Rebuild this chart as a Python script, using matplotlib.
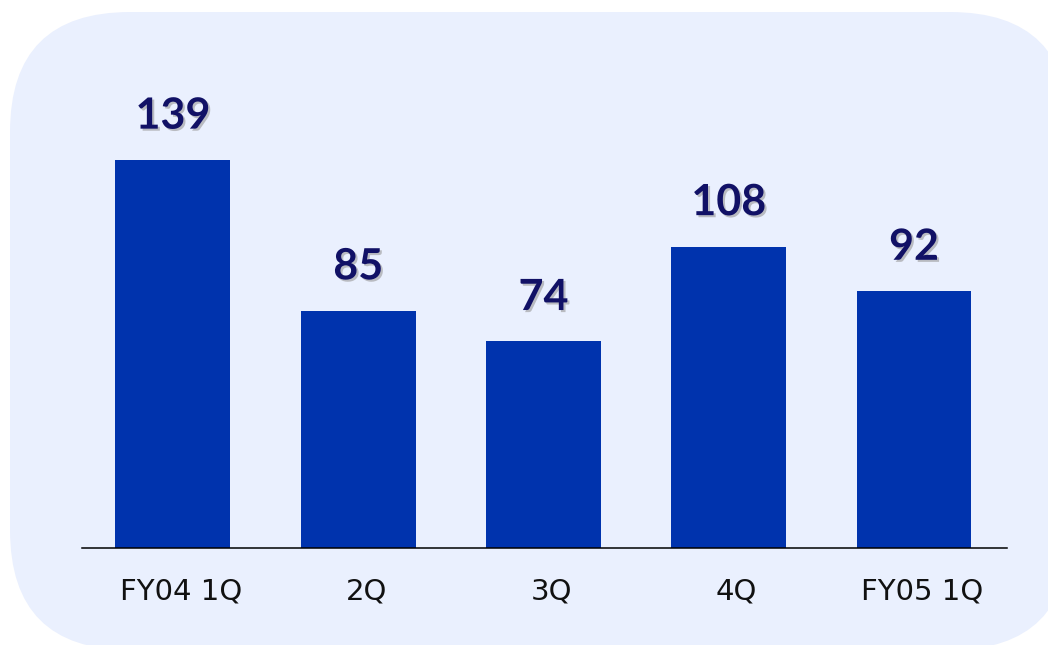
import matplotlib.pyplot as plt
import matplotlib.patheffects as pe
from matplotlib.patches import FancyBboxPatch
from matplotlib.transforms import ScaledTranslation

plt.switch_backend('Agg')

categories = ["FY04 1Q", "2Q", "3Q", "4Q", "FY05 1Q"]
values = [139, 85, 74, 108, 92]

bg_color = "#EAF0FE"
bar_color = "#0033AD"
label_color = "#111166"


def main():
    fig = plt.figure(figsize=(10.48, 6.45), dpi=100)
    fig.patch.set_facecolor("white")

    # rounded light panel behind the chart (inches)
    panel = FancyBboxPatch((0.10, -0.05), 10.6, 6.38,
                           boxstyle="round,pad=0,rounding_size=1.2",
                           transform=fig.dpi_scale_trans,
                           facecolor=bg_color, edgecolor="none", zorder=-5)
    fig.patches.append(panel)

    ax = fig.add_axes([0.0782, 0.1504, 0.8827, 0.8186])
    ax.set_facecolor("none")
    ax.set_zorder(2)

    x = list(range(len(categories)))
    ax.bar(x, values, width=0.62, color=bar_color, zorder=2)

    ax.set_xlim(-0.491, 4.502)
    ax.set_ylim(0, 189.2)

    for s in ["top", "right", "left"]:
        ax.spines[s].set_visible(False)
    ax.spines["bottom"].set_color("black")
    ax.spines["bottom"].set_linewidth(1.1)
    ax.set_yticks([])
    ax.set_xticks([])

    shadow = [pe.SimplePatchShadow(offset=(1.5, -1.5), shadow_rgbFace="#999999", alpha=0.6),
              pe.Normal()]
    for xi, v in zip(x, values):
        ax.annotate(str(v), (xi, v), xytext=(0, 32), textcoords="offset points",
                    ha="center", va="center", fontsize=31, fontweight="bold",
                    family=["Lato", "Liberation Sans"], color=label_color,
                    path_effects=shadow)

    # category labels, slightly right of the bar centres
    off = ScaledTranslation(8 / 100, 0, fig.dpi_scale_trans)
    for xi, c in zip(x, categories):
        ax.text(xi, -0.083, c, transform=ax.get_xaxis_transform() + off,
                ha="center", va="center", fontsize=21, color="#111111",
                family="DejaVu Sans")

    fig.savefig("out.png", dpi=100, facecolor="white")
    plt.close(fig)


if __name__ == '__main__':
    main()
